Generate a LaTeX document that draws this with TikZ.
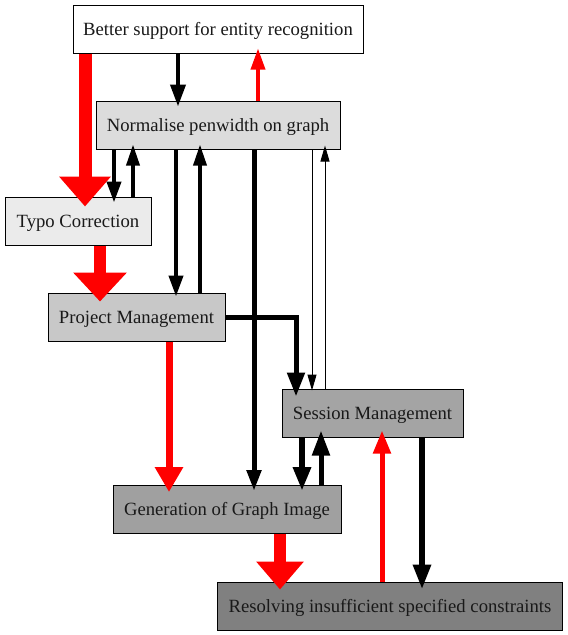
\documentclass[tikz,border=0pt]{standalone}
\usepackage{fontspec}
\setmainfont{Liberation Serif}
\usetikzlibrary{arrows.meta}
\begin{document}
\begin{tikzpicture}[x=1pt,y=-1pt,
  box/.style={draw=black, line width=1pt, minimum height=48pt, inner sep=0pt,
    text height=13pt, text depth=1pt,
    font=\fontsize{18.67}{22}\selectfont, text=black!90},
  ed/.style n args={5}{draw=#1, line width=#2pt,
    -{Triangle[length=#3pt,width=#4pt]}, shorten >=-#5pt}]
\useasboundingbox (0,0) rectangle (568,635);
\definecolor{gA}{HTML}{DCDCDC}
\definecolor{gB}{HTML}{EBEBEB}
\definecolor{gC}{HTML}{C8C8C8}
\definecolor{gD}{HTML}{A4A4A4}
\definecolor{gE}{HTML}{A0A0A0}
\definecolor{gF}{HTML}{808080}
\node[box, fill=white, minimum width=290pt] (better) at (218,29) {Better support for entity recognition};
\node[box, fill=gA, minimum width=244pt] (norm) at (218,125) {Normalise penwidth on graph};
\node[box, fill=gB, minimum width=146pt] (typo) at (78,221) {Typo Correction};
\node[box, fill=gC, minimum width=177pt] (proj) at (136.5,317) {Project Management};
\node[box, fill=gD, minimum width=181pt] (sess) at (372.5,413) {Session Management};
\node[box, fill=gE, minimum width=228pt] (gen) at (227,509.5) {Generation of Graph Image};
\node[box, fill=gF, minimum width=345pt] (res) at (390,606) {Resolving insufficient specified constraints};
% edges
\draw[ed={red}{13}{30}{50}{10}] ([xshift=-133pt]better.south) -- ([xshift=7pt]typo.north);
\draw[ed={black}{4}{22}{15}{6}] ([xshift=-40pt]better.south) -- ([xshift=-40pt]norm.north);
\draw[ed={red}{3.5}{21}{14}{5}] ([xshift=40pt]norm.north) -- ([xshift=40pt]better.south);
\draw[ed={black}{4}{21}{14}{6}] ([xshift=-104pt]norm.south) -- ([xshift=36pt]typo.north);
\draw[ed={black}{3.5}{21}{13}{5}] ([xshift=55pt]typo.north) -- ([xshift=-85pt]norm.south);
\draw[ed={black}{4}{21}{14}{4}] ([xshift=-42pt]norm.south) -- ([xshift=39.5pt]proj.north);
\draw[ed={black}{3.5}{21}{13}{5}] ([xshift=63.5pt]proj.north) -- ([xshift=-18pt]norm.south);
\draw[ed={black}{5}{21}{14}{6}] ([xshift=36pt]norm.south) -- ([xshift=27pt]gen.north);
\draw[ed={black}{1}{16}{9}{2}] ([xshift=94pt]norm.south) -- ([xshift=-60.5pt]sess.north);
\draw[ed={black}{1}{16}{9}{4}] ([xshift=-47.5pt]sess.north) -- ([xshift=107pt]norm.south);
\draw[ed={black}{5}{24}{17}{8}] (proj.east) -| ([xshift=-76.5pt]sess.north);
\draw[ed={red}{7}{25}{27}{7}] ([xshift=32.5pt]proj.south) -- ([xshift=-58pt]gen.north);
\draw[ed={red}{12}{29}{52}{9}] ([xshift=22pt]typo.south) -- ([xshift=-36.5pt]proj.north);
\draw[ed={black}{6}{24}{17}{6}] ([xshift=-70.5pt]sess.south) -- ([xshift=75pt]gen.north);
\draw[ed={black}{5}{25}{17}{7}] ([xshift=94pt]gen.north) -- ([xshift=-51.5pt]sess.south);
\draw[ed={red}{12}{28}{46}{8}] ([xshift=53pt]gen.south) -- ([xshift=-110pt]res.north);
\draw[ed={red}{5}{23}{17}{7}] ([xshift=-8pt]res.north) -- ([xshift=9.5pt]sess.south);
\draw[ed={black}{6}{25}{17}{8}] ([xshift=49.5pt]sess.south) -- ([xshift=32pt]res.north);
\end{tikzpicture}
\end{document}
